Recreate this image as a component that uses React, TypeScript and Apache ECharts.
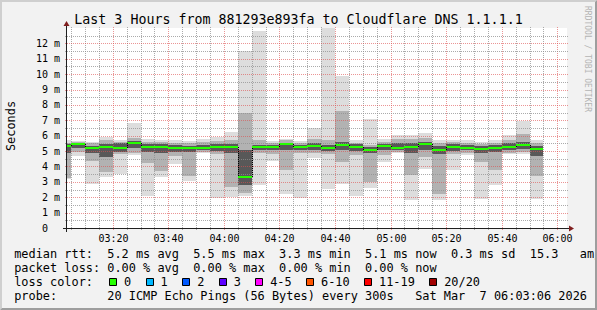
import React, { useEffect, useRef } from 'react';
import * as echarts from 'echarts';

// ---------- data ----------
const windowStart = '03:03:30';
const windowEnd = '06:03:30';
const binMinutes = 5;
const binEnds = ['03:05','03:10','03:15','03:20','03:25','03:30','03:35','03:40','03:45','03:50','03:55','04:00','04:05','04:10','04:15','04:20','04:25','04:30','04:35','04:40','04:45','04:50','04:55','05:00','05:05','05:10','05:15','05:20','05:25','05:30','05:35','05:40','05:45','05:50','05:55'];
// smoke bands (ms): outermost (min/max), middle, inner, and median
const smokeMin =       [3.2, 4.65,2.85,3.32,3.49,4.72,2.07,3.32,4.18,3.04,4.85,1.92,2.03,2.1, 2.82,4.35,2.2, 1.92,4.55,2.52,2.89,2.09,2.57,4.29,4.85,1.81,3.84,1.81,3.75,4.72,1.9, 2.8, 4.79,4.83,1.9];
const smokeLow =       [3.25,4.95,4.35,3.62,4.8, 4.9, 4.2, 3.71,4.7, 3.4, 4.95,4.8, 2.67,2.3, 4.85,4.8, 3.75,4.9, 4.9, 4.8, 4.29,4.75,3.0, 4.75,4.95,3.43,4.6, 2.24,4.8, 4.9, 4.29,3.75,4.9, 4.95,3.4];
const smokeInnerLow =  [4.9, 5.2, 4.85,4.6, 4.95,5.2, 4.95,4.9, 4.95,4.95,5.05,5.0, 4.9, 2.8, 5.05,5.05,5.05,5.05,5.1, 5.0, 5.1, 5.0, 4.9, 5.05,5.05,4.9, 5.1, 4.8, 5.0, 5.05,4.9, 4.95,5.05,5.15,4.7];
const medianRtt =      [5.32,5.43,5.17,5.26,5.17,5.52,5.26,5.26,5.17,5.17,5.17,5.26,5.26,3.32,5.24,5.26,5.43,5.26,5.3, 5.2, 5.41,5.26,5.05,5.3, 5.2, 5.26,5.45,5.05,5.24,5.17,5.11,5.17,5.24,5.39,5.11];
const smokeInnerHigh = [5.45,5.5, 5.35,5.45,5.5, 5.65,5.45,5.45,5.4, 5.35,5.4, 5.45,5.45,5.1, 5.4, 5.4, 5.55,5.4, 5.5, 5.4, 5.6, 5.45,5.25,5.45,5.5, 5.5, 5.6, 5.3, 5.45,5.4, 5.35,5.4, 5.5, 5.6, 5.35];
const smokeHigh =      [5.55,5.58,5.5, 5.7, 5.6, 5.85,5.6, 5.6, 5.55,5.5, 5.6, 5.65,5.75,7.5, 5.7, 5.55,5.7, 5.5, 5.8, 5.7, 7.63,5.55,5.4, 5.6, 5.8, 5.8, 5.85,5.5, 5.6, 5.55,5.45,5.55,5.75,6.1, 5.55];
const smokeMax =       [5.75,5.65,5.6, 5.9, 5.74,6.81,5.78,5.74,5.69,5.65,5.8, 5.9, 6.27,11.5,12.8,5.65,5.8, 5.65,6.51,13.0,9.88,5.69,7.1, 5.8, 6.02,6.02,6.17,5.69,5.74,5.74,5.58,5.69,6.04,6.94,5.74];

const xTickLabels = ['03:20','03:40','04:00','04:20','04:40','05:00','05:20','05:40','06:00'];
const yMax = 13;

const titleText = 'Last 3 Hours from 881293e893fa to Cloudflare DNS 1.1.1.1';
const yAxisTitle = 'Seconds';
const watermark = 'RRDTOOL / TOBI OETIKER';
const medianStats = ['5.2 ms avg', '5.5 ms max', '3.3 ms min', '5.1 ms now', '0.3 ms sd'];
const medianExtra = ['15.3', 'am/s'];
const lossStats = ['0.00 % avg', '0.00 % max', '0.00 % min', '0.00 % now'];
const lossLabels = ['0', '1', '2', '3', '4-5', '6-10', '11-19', '20/20'];
const lossColors = ['#26ff00', '#00b8ff', '#0059ff', '#5e00ff', '#ff00fe', '#ff5500', '#ff0000', '#a10000'];
const probeText = '20 ICMP Echo Pings (56 Bytes) every 300s';
const dateParts = ['Sat Mar', '7 06:03:06 2026'];

// ---------- styling ----------
const MONO = '"DejaVu Sans Mono", monospace';
const GRID_COLOR = 'rgba(143,143,143,0.75)';
const MGRID_COLOR = 'rgba(222,79,79,0.6)';
const AXIS_COLOR = '#1f1f1f';
const ARROW_COLOR = '#801f1f';

const toMin = (s: string) => {
  const p = s.split(':').map(Number);
  return p[0] * 60 + p[1] + (p[2] || 0) / 60;
};
const xMin = toMin(windowStart);
const xMax = toMin(windowEnd);

const COL0 = 14.2;
const CW = 7.16;
const colX = (c: number) => COL0 + c * CW;

function txt(x: number, y: number, text: string, size: number, extra: any = {}) {
  return {
    type: 'text',
    x,
    y,
    z: 50,
    ...extra,
    style: {
      text,
      fill: extra.fill || '#000',
      font: `${size}px ${MONO}`,
      align: extra.align || 'left',
      verticalAlign: 'middle',
      textAlign: extra.align || 'left',
      textVerticalAlign: 'middle',
    },
  };
}

export default function App() {
  const ref = useRef<HTMLDivElement>(null);

  useEffect(() => {
    if (!ref.current) return;
    const chart = echarts.init(ref.current, null, { renderer: 'svg' });

    const smokeData = binEnds.map((t, i) => [
      toMin(t), smokeMin[i], smokeLow[i], smokeInnerLow[i], medianRtt[i], smokeInnerHigh[i], smokeHigh[i], smokeMax[i],
    ]);
    const medianData = binEnds.map((t, i) => [toMin(t), medianRtt[i]]);

    const binX = (params: any, api: any, end: number) => {
      const cs = params.coordSys;
      const xa = Math.max(Math.round(api.coord([end - binMinutes, 0])[0]), cs.x);
      const xb = Math.min(Math.round(api.coord([end, 0])[0]), cs.x + cs.width);
      return [xa, xb];
    };

    const renderSmoke = (params: any, api: any) => {
      const end = api.value(0);
      const [xa, xb] = binX(params, api, end);
      const y = (k: number) => Math.round(api.coord([end, api.value(k)])[1]);
      const band = (lo: number, hi: number, fill: string) => ({
        type: 'rect',
        shape: { x: xa, y: y(hi), width: xb - xa, height: y(lo) - y(hi) },
        style: { fill },
      });
      return {
        type: 'group',
        children: [band(1, 7, '#dddddd'), band(2, 6, '#b2b2b2'), band(3, 5, '#585858')],
      };
    };

    const renderMedian = (params: any, api: any) => {
      const i = params.dataIndex;
      const end = api.value(0);
      const [xa, xb] = binX(params, api, end);
      const ym = Math.round(api.coord([end, api.value(1)])[1]);
      const children: any[] = [
        { type: 'rect', shape: { x: xa, y: ym - 1, width: xb - xa, height: 2 }, style: { fill: lossColors[0] } },
      ];
      if (i > 0) {
        const yp = Math.round(api.coord([end, medianRtt[i - 1]])[1]);
        if (Math.abs(yp - ym) > 1) {
          children.push({
            type: 'line',
            shape: { x1: xa + 0.5, y1: yp, x2: xa + 0.5, y2: ym },
            style: { stroke: '#000', lineWidth: 1, lineDash: [1, 1] },
          });
        }
      }
      return { type: 'group', children };
    };

    const renderFrame = (params: any, api: any) => {
      const cs = params.coordSys;
      const X0 = cs.x, X1 = cs.x + cs.width, Y0 = cs.y + cs.height, Y1 = cs.y;
      const px = (v: number) => Math.round(v) + 0.5;
      const children: any[] = [];
      const majorMins = xTickLabels.map(toMin);
      // vertical minor lines
      for (let m = Math.ceil(xMin / binMinutes) * binMinutes; m <= xMax; m += binMinutes) {
        if (majorMins.some((q) => Math.abs(q - m) < 1e-6)) continue;
        const x = px(api.coord([m, 0])[0]);
        children.push({ type: 'line', shape: { x1: x, y1: Y0 + 2, x2: x, y2: Y1 - 2 }, style: { stroke: GRID_COLOR, lineWidth: 1, lineDash: [1, 1] } });
      }
      // vertical major lines + labels
      xTickLabels.forEach((lab) => {
        const x = px(api.coord([toMin(lab), 0])[0]);
        children.push({ type: 'line', shape: { x1: x, y1: Y0 + 2, x2: x, y2: Y1 - 2 }, style: { stroke: MGRID_COLOR, lineWidth: 1, lineDash: [1, 1] } });
        children.push({
          type: 'text', x: x, y: Y0 + 10,
          style: { text: lab, fill: '#000', font: `10px ${MONO}`, align: 'center', verticalAlign: 'middle', textAlign: 'center', textVerticalAlign: 'middle' },
        });
      });
      // horizontal lines
      for (let v = 0.5; v < yMax; v += 0.5) {
        const y = px(api.coord([xMin, v])[1]);
        const major = Math.abs(v - Math.round(v)) < 1e-6;
        children.push({ type: 'line', shape: { x1: X0 - 2, y1: y, x2: X1 + 2, y2: y }, style: { stroke: major ? MGRID_COLOR : GRID_COLOR, lineWidth: 1, lineDash: [1, 1] } });
      }
      // axes
      const ax = Math.round(X0) - 0.5;
      const ay = Math.round(Y0) + 0.5;
      children.push({ type: 'line', shape: { x1: X0 - 4, y1: ay, x2: X1 + 4, y2: ay }, style: { stroke: AXIS_COLOR, lineWidth: 1 } });
      children.push({ type: 'line', shape: { x1: ax, y1: Y0 + 4, x2: ax, y2: Y1 - 4 }, style: { stroke: AXIS_COLOR, lineWidth: 1 } });
      children.push({ type: 'polygon', shape: { points: [[X1 + 2, ay - 3], [X1 + 2, ay + 3], [X1 + 7, ay]] }, style: { fill: ARROW_COLOR } });
      children.push({ type: 'polygon', shape: { points: [[ax - 3, Y1 - 2], [ax + 3, Y1 - 2], [ax, Y1 - 7]] }, style: { fill: ARROW_COLOR } });
      return { type: 'group', children };
    };

    // legend graphics
    const graphics: any[] = [];
    graphics.push(txt(298.5, 19, titleText, 13.3, { align: 'center' }));
    graphics.push(txt(11, 126, yAxisTitle, 11.9, { align: 'center', rotation: Math.PI / 2 }));
    graphics.push(txt(587, 59, watermark, 8, { align: 'center', rotation: -Math.PI / 2, fill: '#b4b4b4' }));

    const r1 = 254, r2 = 268, r3 = 282, r4 = 296;
    graphics.push(txt(colX(0), r1, 'median rtt:', 11.9));
    medianStats.forEach((s, k) => graphics.push(txt(colX(13 + 12 * k), r1, s, 11.9)));
    graphics.push(txt(colX(72), r1, medianExtra[0], 11.9));
    graphics.push(txt(colX(79), r1, medianExtra[1], 11.9));

    graphics.push(txt(colX(0), r2, 'packet loss:', 11.9));
    lossStats.forEach((s, k) => graphics.push(txt(colX(13 + 12 * k), r2, s, 11.9)));

    graphics.push(txt(colX(0), r3, 'loss color:', 11.9));
    let c = 13.3;
    lossLabels.forEach((lab, k) => {
      const bx = Math.round(colX(c)) + 0.5;
      graphics.push({
        type: 'rect', z: 50,
        shape: { x: bx, y: r3 - 3.5, width: 7, height: 7 },
        style: { fill: lossColors[k], stroke: '#000', lineWidth: 1 },
      });
      graphics.push(txt(colX(c + 2.05), r3, lab, 11.9));
      c += lab.length + 4.1;
    });

    graphics.push(txt(colX(0), r4, 'probe:', 11.9));
    graphics.push(txt(colX(13), r4, probeText, 11.9));
    graphics.push(txt(colX(56), r4, dateParts[0], 11.9));
    graphics.push(txt(colX(65), r4, dateParts[1], 11.9));

    // 3D border
    graphics.push({ type: 'polygon', z: 100, shape: { points: [[0, 0], [597, 0], [595, 2], [2, 2], [2, 308], [0, 310]] }, style: { fill: '#cfcfcf' } });
    graphics.push({ type: 'polygon', z: 100, shape: { points: [[597, 0], [597, 310], [0, 310], [2, 308], [595, 308], [595, 2]] }, style: { fill: '#9e9e9e' } });

    chart.setOption({
      animation: false,
      backgroundColor: '#f2f2f2',
      grid: { left: 67, top: 28, width: 500, height: 200, show: true, backgroundColor: '#ffffff', borderWidth: 0 },
      xAxis: { type: 'value', min: xMin, max: xMax, show: false },
      yAxis: {
        type: 'value', min: 0, max: yMax, interval: 1,
        axisLine: { show: false }, axisTick: { show: false }, splitLine: { show: false },
        axisLabel: {
          margin: 7, color: '#000', fontFamily: MONO, fontSize: 10, showMaxLabel: false,
          formatter: (v: number) => (v === 0 ? '0\u00a0\u00a0' : `${v} m`),
        },
      },
      series: [
        { type: 'custom', name: 'smoke', z: 2, data: smokeData, renderItem: renderSmoke, encode: { x: 0, y: [1, 2, 3, 4, 5, 6, 7] }, silent: true },
        { type: 'custom', name: 'grid', z: 3, data: [[xMin, 0]], renderItem: renderFrame, encode: { x: 0, y: 1 }, silent: true },
        { type: 'custom', name: 'median', z: 4, data: medianData, renderItem: renderMedian, encode: { x: 0, y: 1 }, silent: true },
      ],
      graphic: graphics,
    });

    return () => chart.dispose();
  }, []);

  return <div ref={ref} style={{ position: 'fixed', left: 0, top: 0, width: 597, height: 310 }} />;
}
